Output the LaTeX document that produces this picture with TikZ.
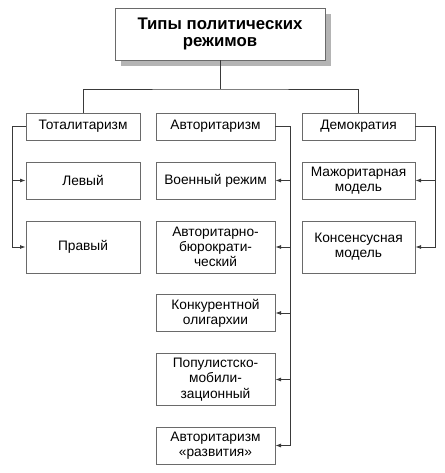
\documentclass[tikz,border=0pt]{standalone}
\usepackage{fontspec}
\setmainfont{Liberation Sans}
\usepackage{tikz}
\usetikzlibrary{arrows.meta, shadows}
\definecolor{linea}{HTML}{3A3A3A}
\definecolor{bordo}{HTML}{6A6A6A}
\definecolor{ombra}{HTML}{B4B4B4}

\begin{document}
\begin{tikzpicture}[x = 0.75pt, y = -0.75pt,
    box/.style = {draw=bordo, line width=0.6pt, align=center, inner sep=1pt,
                  font=\fontsize{10.3}{11.4}\selectfont},
    toarr/.style = {draw=linea, line width=0.6pt, -{Latex[length=4.2pt,width=3pt]}},
    conn/.style = {draw=linea, line width=0.6pt}]
    % Parametri
    \pgfmathsetmacro{\xa}{83}
    \pgfmathsetmacro{\xb}{215.5}
    \pgfmathsetmacro{\xc}{358.5}
    \pgfmathsetmacro{\wa}{0.75*114}
    \pgfmathsetmacro{\wb}{0.75*119}
    \pgfmathsetmacro{\wc}{0.75*113}
    \pgfmathsetmacro{\hbasso}{0.75*27}
    \pgfmathsetmacro{\hmedio}{0.75*37}
    \pgfmathsetmacro{\halto}{0.75*52}
    \useasboundingbox (0,0) rectangle (444,473);
    % Titolo
    \node[box, minimum width=157.5pt, minimum height=39pt,
          font=\bfseries\fontsize{12.6}{13}\selectfont,
          drop shadow={shadow xshift=4.5pt, shadow yshift=-4.5pt, fill=ombra, opacity=1},
          fill=white] (tit) at (220,34) {Типы политических\\режимов};
    % Livello 2
    \node[box, minimum width=\wa pt, minimum height=\hbasso pt] (tot) at (\xa,126.5) {Тоталитаризм};
    \node[box, minimum width=\wb pt, minimum height=\hbasso pt] (avt) at (\xb,126.5) {Авторитаризм};
    \node[box, minimum width=\wc pt, minimum height=\hbasso pt] (dem) at (\xc,126.5) {Демократия};
    % Totalitarismo
    \node[box, minimum width=\wa pt, minimum height=\hmedio pt] (lev) at (\xa,180.5) {Левый};
    \node[box, minimum width=\wa pt, minimum height=\halto pt] (prv) at (\xa,247) {Правый};
    % Autoritarismo
    \node[box, minimum width=\wb pt, minimum height=\hmedio pt] (voen) at (\xb,180.5) {Военный режим};
    \node[box, minimum width=\wb pt, minimum height=\halto pt] (byur) at (\xb,247) {Авторитарно-\\бюрократи-\\ческий};
    \node[box, minimum width=\wb pt, minimum height=\hmedio pt] (konk) at (\xb,313) {Конкурентной\\олигархии};
    \node[box, minimum width=\wb pt, minimum height=\halto pt] (pop) at (\xb,379.5) {Популистско-\\мобили-\\зационный};
    \node[box, minimum width=\wb pt, minimum height=\hmedio pt] (razv) at (\xb,445.5) {Авторитаризм\\«развития»};
    % Democrazia
    \node[box, minimum width=\wc pt, minimum height=\hmedio pt] (maj) at (\xc,180.5) {Мажоритарная\\модель};
    \node[box, minimum width=\wc pt, minimum height=\halto pt] (kons) at (\xc,247) {Консенсусная\\модель};

    % Collegamenti
    \coordinate (bus) at (220,89);
    \draw[conn] (tit.south) -- (bus);
    \draw[conn] (tot.north) |- (bus) -| (dem.north);
    \draw[toarr] (tot.west) -- ++(-13,0) |- (lev.west);
    \draw[toarr] (tot.west) -- ++(-13,0) |- (prv.west);
    \foreach \n in {voen, byur, konk, pop, razv}
        \draw[toarr] (avt.east) -- ++(15,0) |- (\n.east);
    \draw[toarr] (dem.east) -- ++(20,0) |- (maj.east);
    \draw[toarr] (dem.east) -- ++(20,0) |- (kons.east);
\end{tikzpicture}
\end{document}
